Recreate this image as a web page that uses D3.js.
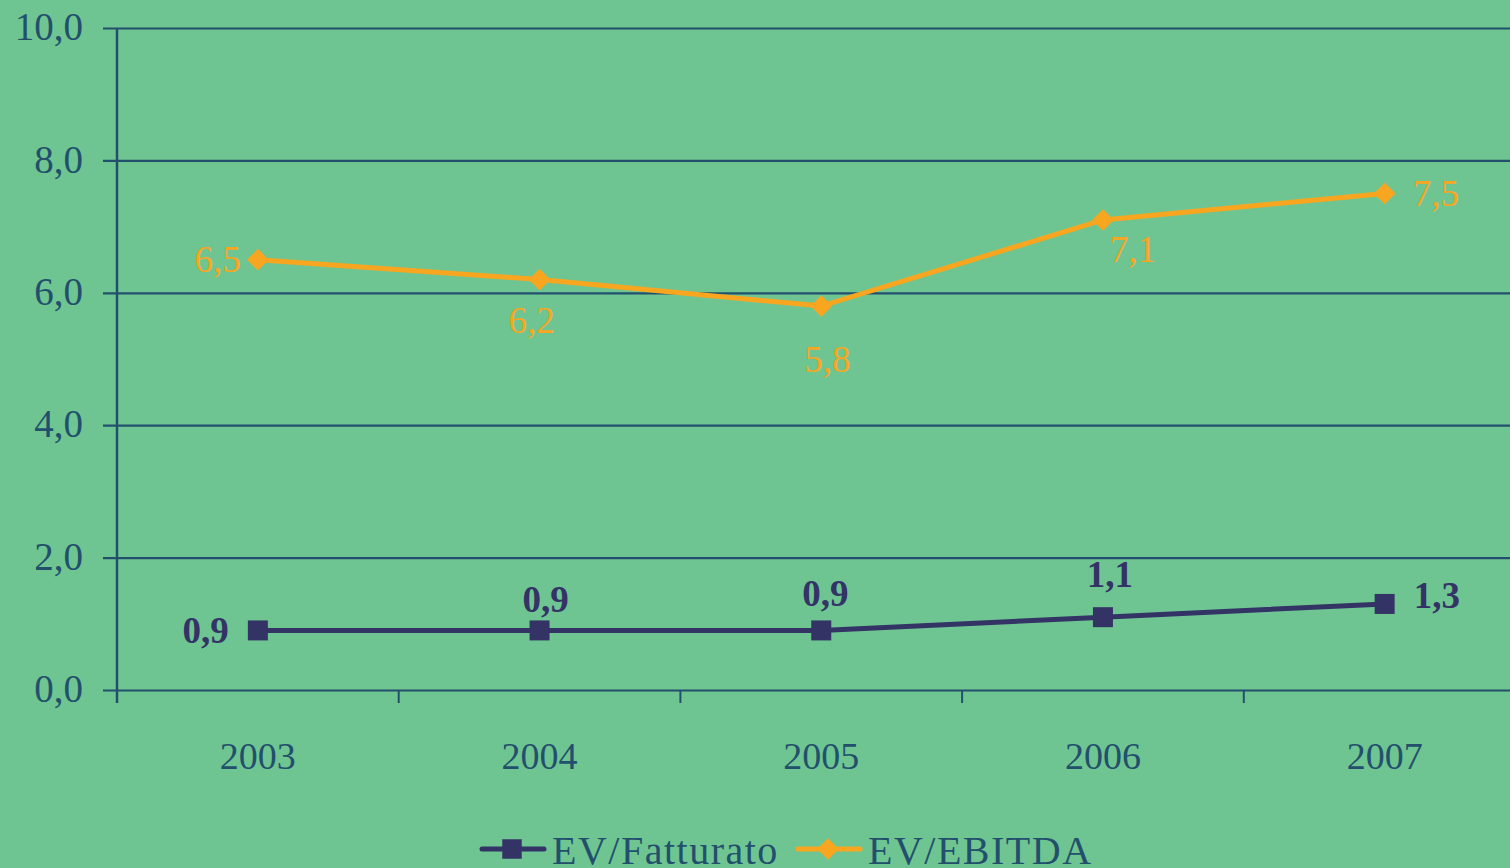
<!DOCTYPE html>
<html>
<head>
<meta charset="utf-8">
<style>
body {
  margin: 0;
  background: #6fc592;
  overflow: hidden;
}
svg text {
  font-family: "Liberation Serif", "Times New Roman", serif;
}
</style>
</head>
<body>
<div id="chart"></div>
<script src="https://d3js.org/d3.v7.min.js"></script>
<script>

// data
var years = ["2003", "2004", "2005", "2006", "2007"];
var fatturato = [0.9, 0.9, 0.9, 1.1, 1.3];
var ebitda = [6.5, 6.2, 5.8, 7.1, 7.5];
var yTicks = [0, 2, 4, 6, 8, 10];

var W = 1510, H = 868;
var plotLeft = 117, plotTop = 28, plotBottom = 690;
var band = 281.7;

var svg = d3.select("#chart").append("svg")
  .attr("width", W)
  .attr("height", H);

svg.append("rect")
  .attr("width", W).attr("height", H)
  .attr("fill", "#6fc592");

var x = d3.scaleBand()
  .domain(years)
  .range([plotLeft, plotLeft + band * years.length])
  .padding(0);

var y = d3.scaleLinear()
  .domain([0, 10])
  .range([plotBottom, plotTop]);

var fmt = function(v) { return d3.format(".1f")(v).replace(".", ","); };
var axisColor = "#22506c";

// gridlines + y axis
var yAxis = svg.append("g")
  .attr("transform", "translate(" + plotLeft + ",0)")
  .call(d3.axisLeft(y)
    .tickValues(yTicks)
    .tickFormat(fmt)
    .tickSize(14)
    .tickPadding(20));
yAxis.select(".domain").remove();
yAxis.selectAll(".tick line")
  .attr("stroke", axisColor)
  .attr("stroke-width", 2.2)
  .attr("x1", W - plotLeft)
  .attr("x2", -14);
yAxis.selectAll(".tick text")
  .attr("fill", axisColor)
  .style("font-size", "39px")
  .attr("dy", "0.3em");

svg.append("line")
  .attr("x1", plotLeft).attr("x2", plotLeft)
  .attr("y1", plotTop).attr("y2", plotBottom + 13)
  .attr("stroke", axisColor)
  .attr("stroke-width", 2.5);

// x axis
var xAxis = svg.append("g")
  .attr("transform", "translate(0," + plotBottom + ")")
  .call(d3.axisBottom(x).tickSize(0).tickPadding(52));
xAxis.select(".domain").remove();
xAxis.selectAll(".tick text")
  .attr("fill", axisColor)
  .style("font-size", "38px");

// category separator ticks
svg.append("g").selectAll("line")
  .data(years)
  .enter().append("line")
    .attr("x1", function(d) { return x(d); })
    .attr("x2", function(d) { return x(d); })
    .attr("y1", plotBottom)
    .attr("y2", plotBottom + 13)
    .attr("stroke", axisColor)
    .attr("stroke-width", 2);

var cx = function(i) { return x(years[i]) + x.bandwidth() / 2; };

var navy = "#333366", orange = "#f8a51f";

var line = d3.line()
  .x(function(d, i) { return cx(i); })
  .y(function(d) { return y(d); });

svg.append("path")
  .datum(fatturato)
  .attr("d", line)
  .attr("fill", "none")
  .attr("stroke", navy)
  .attr("stroke-width", 5);

svg.append("path")
  .datum(ebitda)
  .attr("d", line)
  .attr("fill", "none")
  .attr("stroke", orange)
  .attr("stroke-width", 5);

svg.append("g").selectAll("rect")
  .data(fatturato)
  .enter().append("rect")
    .attr("x", function(d, i) { return cx(i) - 10; })
    .attr("y", function(d) { return y(d) - 10; })
    .attr("width", 20)
    .attr("height", 20)
    .attr("fill", navy);

var diamond = d3.symbol().type(d3.symbolDiamond2).size(300);
svg.append("g").selectAll("path")
  .data(ebitda)
  .enter().append("path")
    .attr("d", diamond)
    .attr("transform", function(d, i) { return "translate(" + cx(i) + "," + y(d) + ")"; })
    .attr("fill", orange);

// data labels (placement per point, like the original)
var navyPlace = [
  {dx: -29, dy: 13, anchor: "end"},
  {dx: 6, dy: -18, anchor: "middle"},
  {dx: 4, dy: -24, anchor: "middle"},
  {dx: 7, dy: -30, anchor: "middle"},
  {dx: 29, dy: 4, anchor: "start"}
];
var orangePlace = [
  {dx: -17, dy: 12, anchor: "end"},
  {dx: -8, dy: 53, anchor: "middle"},
  {dx: 6, dy: 66, anchor: "middle"},
  {dx: 30, dy: 42, anchor: "middle"},
  {dx: 28, dy: 12, anchor: "start"}
];

svg.append("g").selectAll("text")
  .data(fatturato)
  .enter().append("text")
    .attr("x", function(d, i) { return cx(i) + navyPlace[i].dx; })
    .attr("y", function(d, i) { return y(d) + navyPlace[i].dy; })
    .attr("text-anchor", function(d, i) { return navyPlace[i].anchor; })
    .attr("fill", navy)
    .style("font-size", "37px")
    .style("font-weight", "bold")
    .text(fmt);

svg.append("g").selectAll("text")
  .data(ebitda)
  .enter().append("text")
    .attr("x", function(d, i) { return cx(i) + orangePlace[i].dx; })
    .attr("y", function(d, i) { return y(d) + orangePlace[i].dy; })
    .attr("text-anchor", function(d, i) { return orangePlace[i].anchor; })
    .attr("fill", orange)
    .style("font-size", "37px")
    .text(fmt);

// legend
var legend = [
  {name: "EV/Fatturato", color: navy, x0: 480, type: "square"},
  {name: "EV/EBITDA", color: orange, x0: 796, type: "diamond"}
];
var lg = svg.append("g").selectAll("g")
  .data(legend)
  .enter().append("g")
    .attr("transform", function(d) { return "translate(" + d.x0 + ",849)"; });
lg.append("line")
  .attr("x1", 2).attr("x2", 64)
  .attr("stroke", function(d) { return d.color; })
  .attr("stroke-width", 5)
  .attr("stroke-linecap", "round");
lg.append("path")
  .attr("d", function(d) {
    return d.type === "square"
      ? d3.symbol().type(d3.symbolSquare).size(380)()
      : d3.symbol().type(d3.symbolDiamond2).size(300)();
  })
  .attr("transform", "translate(32,0)")
  .attr("fill", function(d) { return d.color; });
lg.append("text")
  .attr("x", 72)
  .attr("y", 15)
  .attr("fill", axisColor)
  .style("font-size", "40px")
  .style("letter-spacing", "1.5px")
  .text(function(d) { return d.name; });

</script>
</body>
</html>
